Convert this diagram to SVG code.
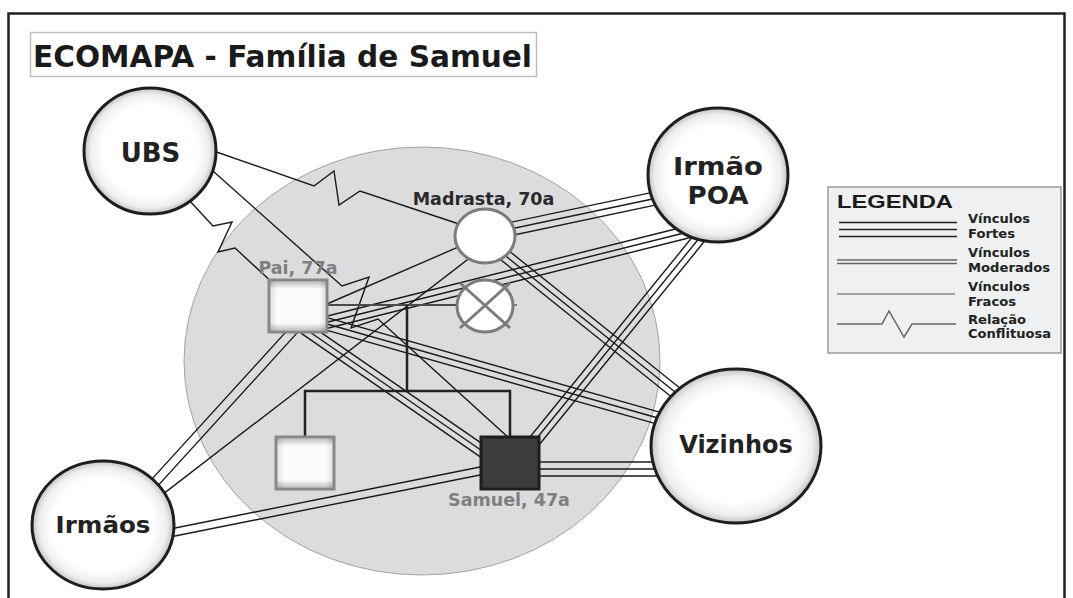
<svg xmlns="http://www.w3.org/2000/svg" width="1073" height="598" viewBox="0 0 1073 598">
<defs>
<radialGradient id="ball" cx="50%" cy="50%" r="50%">
<stop offset="0" stop-color="#ffffff"/>
<stop offset="0.72" stop-color="#ffffff"/>
<stop offset="0.9" stop-color="#eeeeee"/>
<stop offset="1" stop-color="#c2c2c2"/>
</radialGradient>
<linearGradient id="sqH" x1="0" y1="0" x2="1" y2="0">
<stop offset="0" stop-color="#a6a6a6"/>
<stop offset="0.14" stop-color="#f6f6f6"/>
<stop offset="0.86" stop-color="#f6f6f6"/>
<stop offset="1" stop-color="#a6a6a6"/>
</linearGradient>
<linearGradient id="sqV" x1="0" y1="0" x2="0" y2="1">
<stop offset="0" stop-color="#9a9a9a" stop-opacity="0.6"/>
<stop offset="0.15" stop-color="#ffffff" stop-opacity="0.6"/>
<stop offset="0.85" stop-color="#ffffff" stop-opacity="0.6"/>
<stop offset="1" stop-color="#9a9a9a" stop-opacity="0.6"/>
</linearGradient>
</defs>
<style>
.frame{fill:none;stroke:#222;stroke-width:2.5}
.title{font-family:"DejaVu Sans",Verdana,sans-serif;font-weight:bold;font-size:29.5px;fill:#1a1a1a}
.lbl{font-family:"DejaVu Sans",Verdana,sans-serif;font-weight:bold;text-anchor:middle}
.big{font-size:24px;fill:#222}
.pers{font-size:17.5px}
.ext{fill:url(#ball);stroke:#1e1e1e;stroke-width:3}
.c{fill:none;stroke:#1a1a1a;stroke-width:1.4;stroke-linejoin:miter}
.fam{fill:none;stroke:#222;stroke-width:2.5}
.grey{fill:#fff;stroke:#7c7c7c;stroke-width:3}
.sq{fill:url(#sqH);stroke:#878787;stroke-width:3}
.sqo{fill:url(#sqV);stroke:none}
.leg{font-family:"DejaVu Sans",Verdana,sans-serif;font-weight:bold;font-size:12px;fill:#222}
</style>

<rect width="1073" height="598" fill="#ffffff"/>
<path class="frame" d="M8.5,598 V13.5 H1064.5 V598"/>

<g id="title">
<rect x="30.5" y="32.5" width="506" height="44" fill="#fff" stroke="#bdbdbd" stroke-width="1.5"/>
<text class="title" x="33" y="67" textLength="499" lengthAdjust="spacingAndGlyphs">ECOMAPA - Família de Samuel</text>
</g>

<g id="household">
<ellipse cx="422" cy="361" rx="238" ry="214" fill="#dcdcde" stroke="#a3a3a3" stroke-width="1"/>
</g>

<g id="connectors">
<path class="c" d="M504.6,223.6 L660.6,190.6 M506,230 L662,197 M507.4,236.4 L663.4,203.4"/>
<path class="c" d="M318.5,318.2 L698.5,223.2 M320,324 L700,229 M321.5,329.8 L701.5,234.8"/>
<path class="c" d="M321.6,316.2 L666.6,414.2 M320,322 L665,420 M318.4,327.8 L663.4,425.8"/>
<path class="c" d="M307.4,323.1 L491.4,450.1 M304,328 L488,455 M300.6,332.9 L484.6,459.9"/>
<path class="c" d="M294.4,322.6 L148,483.4 M301,328.6 L154.6,489.4"/>
<path class="c" d="M490,465 L160,531 M490,473 L160,539"/>
<path class="c" d="M530,462 H666 M530,469 H666 M530,476 H666"/>
<path class="c" d="M523.3,445.2 L700.3,227.2 M528,449 L705,231 M532.7,452.8 L709.7,234.8"/>
<path class="c" d="M505.8,248.3 L688.8,395.3 M502,253 L685,400 M498.2,257.7 L681.2,404.7"/>
<path class="c" d="M474.9,253.9 L159.1,497.1"/>
<path class="c" d="M320,307 L462,245.4"/>
<path class="c" d="M205,148 L314,186 L334,171 L339,205 L360,191 L465,226"/>
<path class="c" d="M175,185 L213,226 L232,222 L218,252 L235,248 L275,285"/>
<path class="c" d="M195,155 L342,286 L369,277 L351,328 L378,319 L510,439"/>
<path d="M327,305 H457" fill="none" stroke="#4a4a4a" stroke-width="1.8"/>
<path class="fam" d="M407,305 V391"/>
<path class="fam" d="M305,437 V391 H510 V437"/>
</g>

<g id="ubs">
<ellipse class="ext" cx="150" cy="151" rx="66" ry="63"/>
<text class="lbl" x="150.5" y="162" font-size="26" fill="#222">UBS</text>
</g>

<g id="irmao-poa">
<ellipse class="ext" cx="718" cy="175" rx="70" ry="67"/>
<text class="lbl" x="718" y="175" font-size="25" fill="#222" textLength="90" lengthAdjust="spacingAndGlyphs">Irmão</text>
<text class="lbl" x="718" y="204" font-size="25" fill="#222" textLength="61" lengthAdjust="spacingAndGlyphs">POA</text>
</g>

<g id="vizinhos">
<ellipse class="ext" cx="736" cy="446" rx="85" ry="77"/>
<text class="lbl big" x="736" y="453">Vizinhos</text>
</g>

<g id="irmaos">
<ellipse class="ext" cx="103" cy="525" rx="71" ry="64"/>
<text class="lbl" x="103" y="533" font-size="23" fill="#222" textLength="95" lengthAdjust="spacingAndGlyphs">Irmãos</text>
</g>

<g id="madrasta">
<ellipse class="grey" cx="485" cy="236" rx="30" ry="27"/>
<text class="lbl pers" x="483.5" y="205" fill="#2a2a2a">Madrasta, 70a</text>
</g>

<g id="mae-falecida">
<path d="M513,305 H517" stroke="#7c7c7c" stroke-width="2"/>
<ellipse class="grey" cx="485" cy="306" rx="28" ry="26"/>
<path d="M460,283 L510,328 M510,283 L460,328" stroke="#7c7c7c" stroke-width="3"/>
</g>

<g id="pai">
<rect class="sq" x="269" y="280" width="58" height="52"/>
<rect class="sqo" x="270.5" y="281.5" width="55" height="49"/>
<text class="lbl pers" x="298" y="274" fill="#7f7f7f">Pai, 77a</text>
</g>

<g id="irmao-filho">
<rect class="sq" x="276" y="437" width="58" height="52"/>
<rect class="sqo" x="277.5" y="438.5" width="55" height="49"/>
</g>

<g id="samuel">
<rect x="481" y="437" width="58" height="52" fill="#3c3c3e" stroke="#1e1e1e" stroke-width="3"/>
<text class="lbl pers" x="509" y="506" fill="#7f7f7f">Samuel, 47a</text>
</g>

<g id="legenda">
<rect x="828" y="187" width="233" height="166" fill="#eff0f2" stroke="#9c9c9c" stroke-width="1.5"/>
<text x="837" y="208" font-family="'Liberation Sans',Arial,sans-serif" font-weight="bold" font-size="19" fill="#1a1a1a" textLength="116" lengthAdjust="spacingAndGlyphs">LEGENDA</text>
<path d="M839,222.5 H957 M839,229.5 H957 M839,236.5 H957" stroke="#222" stroke-width="1.5"/>
<path d="M837,260 H957 M837,263.5 H957" stroke="#666" stroke-width="1.6"/>
<path d="M837,294 H955" stroke="#888" stroke-width="1.5"/>
<polyline points="837,324 882,324 889,311 904,337 912,324 956,324" fill="none" stroke="#666" stroke-width="1.5"/>
<text class="leg" x="968" y="223" textLength="62" lengthAdjust="spacingAndGlyphs">Vínculos</text>
<text class="leg" x="968" y="237.5" textLength="47" lengthAdjust="spacingAndGlyphs">Fortes</text>
<text class="leg" x="968" y="256.5" textLength="62" lengthAdjust="spacingAndGlyphs">Vínculos</text>
<text class="leg" x="968" y="271.5" textLength="82" lengthAdjust="spacingAndGlyphs">Moderados</text>
<text class="leg" x="968" y="291" textLength="62" lengthAdjust="spacingAndGlyphs">Vínculos</text>
<text class="leg" x="968" y="305.5" textLength="48" lengthAdjust="spacingAndGlyphs">Fracos</text>
<text class="leg" x="968" y="324" textLength="58" lengthAdjust="spacingAndGlyphs">Relação</text>
<text class="leg" x="968" y="338" textLength="83" lengthAdjust="spacingAndGlyphs">Conflituosa</text>
</g>
</svg>
